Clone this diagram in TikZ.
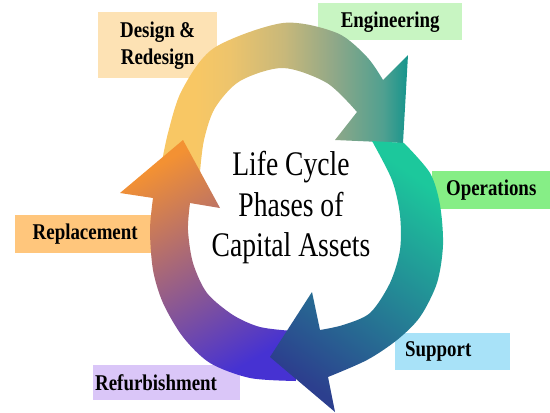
\documentclass[tikz,border=0pt]{standalone}
\usepackage{fontspec}
\setmainfont{Liberation Serif}
\newfontfamily\lblfont[FakeStretch=0.84]{Liberation Serif}
\newfontfamily\ctrfont[FakeStretch=0.8]{Liberation Serif}
\definecolor{bxdesign}{HTML}{FDE2B4}
\definecolor{bxeng}{HTML}{C8F5C2}
\definecolor{bxops}{HTML}{86EE86}
\definecolor{bxrepl}{HTML}{FFC67C}
\definecolor{bxsup}{HTML}{A8E2F8}
\definecolor{bxref}{HTML}{DAC6F8}
\definecolor{yel}{HTML}{F8C764}
\definecolor{yel2}{HTML}{EDC46C}
\definecolor{khaki}{HTML}{C8B87A}
\definecolor{sage}{HTML}{90A888}
\definecolor{teal0}{HTML}{50A090}
\definecolor{teal1}{HTML}{14958D}
\definecolor{green1}{HTML}{1CC89C}
\definecolor{teal2}{HTML}{1DAEA0}
\definecolor{blue1}{HTML}{2C3F8E}
\definecolor{orange1}{HTML}{F39133}
\definecolor{mauve}{HTML}{B46890}
\definecolor{violet1}{HTML}{4632D2}
\pgfdeclarehorizontalshading{topgrad}{100bp}{color(0bp)=(yel); color(25bp)=(yel); color(32bp)=(yel); color(39bp)=(yel2); color(50bp)=(khaki); color(60bp)=(sage); color(70bp)=(teal0); color(75bp)=(teal1); color(100bp)=(teal1)}
\begin{document}
\begin{tikzpicture}[x=1pt,y=-1pt,
  lbl/.style={font=\lblfont\bfseries\fontsize{22.5}{27}\selectfont, inner sep=0pt, anchor=north west, align=center},
  ctr/.style={font=\ctrfont\fontsize{34.5}{40}\selectfont, inner sep=0pt, anchor=base}]
\useasboundingbox (0,0) rectangle (550,413);
% label boxes
\node[lbl, fill=bxdesign, minimum width=119pt, minimum height=66pt] (design) at (98,12) {Design \&\\Redesign};
\node[lbl, fill=bxeng, minimum width=144pt, minimum height=37pt] (eng) at (318,3) {Engineering};
\node[lbl, fill=bxops, minimum width=118pt, minimum height=38pt] (ops) at (432,171) {Operations};
\node[lbl, fill=bxrepl, minimum width=140pt, minimum height=38pt] (repl) at (15,215) {Replacement};
\node[lbl, fill=bxsup, minimum height=37pt, text width=95pt, align=left, inner xsep=10pt] (sup) at (395,333) {Support};
\node[lbl, fill=bxref, minimum height=35pt, text width=143pt, align=left, inner xsep=2pt] (ref) at (93,365) {Refurbishment};
% top arrow (design -> engineering)
\shade[shading=topgrad]
  (160,172) -- plot[smooth] coordinates {(160,172) (168,133) (182,90) (214,48) (283,23) (337,33) (367,57) (383,80)}
  -- (408,55) -- (403,143) -- (335,140) -- (357,112)
  -- plot[smooth] coordinates {(357,112) (327,83) (283,68) (240,81) (215,108) (204,140) (200,172)} -- cycle;
% left arrow (refurbishment -> replacement)
\shade[top color=orange1, middle color=mauve, bottom color=violet1, shading angle=30]
  (293,331) -- (296,381) -- plot[smooth] coordinates {(296,381) (250,378) (210,363) (183,337) (163,303) (153,270) (150,230) (153,198)}
  -- (120,193) -- (183,140) -- (220,208) -- (190,203)
  -- plot[smooth] coordinates {(190,203) (188,230) (193,263) (207,293) (233,315) (260,327) (293,331)} -- cycle;
% right arrow (operations -> support)
\shade[top color=green1, middle color=teal2, bottom color=blue1, shading angle=-35]
  (372,141) -- (404,143) -- plot[smooth] coordinates {(404,143) (430,173) (440,205) (443,245) (437,283) (420,317) (397,340) (367,360) (328,377)}
  -- (335,412) -- (270,357) -- (312,292) -- (320,330)
  -- plot[smooth] coordinates {(320,330) (343,325) (370,313) (390,283) (400,250) (400,215) (392,180) (372,141)} -- cycle;
% centre text
\node[ctr] (t1) at (291,175) {Life Cycle};
\node[ctr] (t2) at (291,216) {Phases of};
\node[ctr] (t3) at (291,256) {Capital Assets};
\end{tikzpicture}
\end{document}
